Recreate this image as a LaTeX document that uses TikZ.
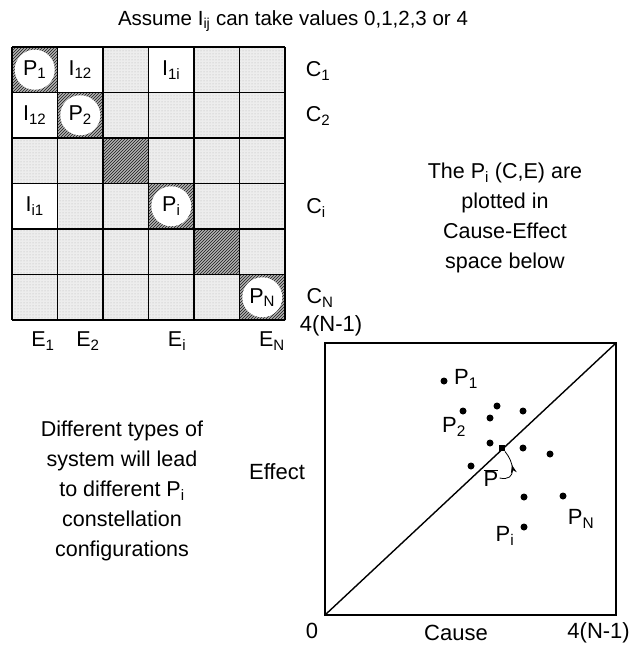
\documentclass[tikz,border=0pt]{standalone}
\usepackage{fontspec}
\setmainfont{Liberation Sans}
\usetikzlibrary{patterns,decorations.markings,arrows.meta}

\tikzset{
  lbl/.style={font=\fontsize{21.5}{24}\selectfont, inner sep=1pt},
  plbl/.style={font=\fontsize{22}{25}\selectfont, inner sep=1pt},
  ttl/.style={font=\fontsize{20.5}{24}\selectfont, inner sep=1pt},
  note/.style={align=center, inner sep=1pt, font=\fontsize{21.5}{30}\selectfont},
  lightcell/.style={preaction={fill=gray!14}, pattern=dots, pattern color=gray!60},
  darkcell/.style={preaction={fill=gray!60}, pattern=north east lines, pattern color=black!90},
  pcirc/.style={lbl, circle, fill=white, minimum size=40pt, inner sep=0pt},
  dot/.style={circle, fill=black, inner sep=0pt, minimum size=7pt},
  midarrow/.style={postaction={decorate}, decoration={markings,
      mark=at position 0.6 with {\arrow{Stealth[length=8pt,width=6pt]}}}}
}

\begin{document}
\begin{tikzpicture}[x=1pt,y=-1pt]
\useasboundingbox (0,0) rectangle (632,645);

% Title
\node[ttl] (title) at (293,21) {Assume I\textsubscript{ij} can take values 0,1,2,3 or 4};

% Matrix cells
\foreach \r in {1,...,6}
  \foreach \c in {1,...,6}
    \fill[lightcell] ({12+(\c-1)*45.5},{47+(\r-1)*45.5}) rectangle ++(45.5,45.5);
\foreach \k in {1,...,6}
  \fill[darkcell] ({12+(\k-1)*45.5},{47+(\k-1)*45.5}) rectangle ++(45.5,45.5);
\foreach \c/\r in {2/1,4/1,1/2,1/4}
  \fill[white] ({12+(\c-1)*45.5},{47+(\r-1)*45.5}) rectangle ++(45.5,45.5);

% Grid
\foreach \k in {0,...,6} {
  \draw[line width=1.9pt] ({12+\k*45.5},47) -- ({12+\k*45.5},320);
  \draw[line width=1.9pt] (12,{47+\k*45.5}) -- (285,{47+\k*45.5});
}

% Diagonal entries
\node[pcirc] (p1) at (34.75,69.75) {P\textsubscript{1}};
\node[pcirc] (p2) at (80.25,115.25) {P\textsubscript{2}};
\node[pcirc] (pi) at (171.25,206.25) {P\textsubscript{i}};
\node[pcirc] (pn) at (262.25,297.25) {P\textsubscript{N}};

% Off-diagonal entries
\node[lbl] (i12a) at (80.25,69.75) {I\textsubscript{12}};
\node[lbl] (i1i) at (171.25,69.75) {I\textsubscript{1i}};
\node[lbl] (i12b) at (34.75,115.25) {I\textsubscript{12}};
\node[lbl] (ii1) at (34.75,206.25) {I\textsubscript{i1}};

% Row and column labels
\node[lbl] (c1) at (318,71) {C\textsubscript{1}};
\node[lbl] (c2) at (318,116) {C\textsubscript{2}};
\node[lbl] (ci) at (316,208) {C\textsubscript{i}};
\node[lbl] (cn) at (320,298) {C\textsubscript{N}};
\node[lbl] (e1) at (43,341) {E\textsubscript{1}};
\node[lbl] (e2) at (88,341) {E\textsubscript{2}};
\node[lbl] (ei) at (177,341) {E\textsubscript{i}};
\node[lbl] (en) at (272,341) {E\textsubscript{N}};

% Notes
\node[note] (plotted) at (505,218) {The P\textsubscript{i} (C,E) are\\plotted in\\Cause-Effect\\space below};
\node[note] (types) at (122,491) {Different types of\\system will lead\\to different P\textsubscript{i}\\constellation\\configurations};

% Cause-Effect space
\coordinate (orig) at (325,615);
\coordinate (top) at (616,343);
\draw[line width=1.6pt] (orig) rectangle (top);
\draw[line width=1.4pt] (orig) -- (top);
\node[plbl] (ymax) at (331,326) {4(N-1)};
\node[plbl] (zero) at (312,631) {0};
\node[plbl] (cause) at (456,633) {Cause};
\node[plbl, anchor=east] (xmax) at (631,633) {4(N-1)};
\node[plbl] (effect) at (277,472) {Effect};

% Points
\foreach \x/\y [count=\n] in {444/381,463/411,497/406,490/418,523/411,490/443,
    523/448,550/454,471/466,524/497,563/496,524/527}
  \node[dot] (d\n) at (\x,\y) {};
\node[plbl] (lp1) at (466,379) {P\textsubscript{1}};
\node[plbl] (lp2) at (454,427) {P\textsubscript{2}};
\node[plbl] (lpn) at (581,519) {P\textsubscript{N}};
\node[plbl] (lpi) at (505,536) {P\textsubscript{i}};

% Mean point
\node[fill=black, inner sep=0pt, minimum size=6.5pt] (mean) at (502,448) {};
\node[plbl] (pbar) at (491,478) {$\overline{\hbox{P}}$};
\draw[thick, midarrow] (pbar.east) .. controls (518,482) and (514,462) .. (mean);

\end{tikzpicture}
\end{document}
